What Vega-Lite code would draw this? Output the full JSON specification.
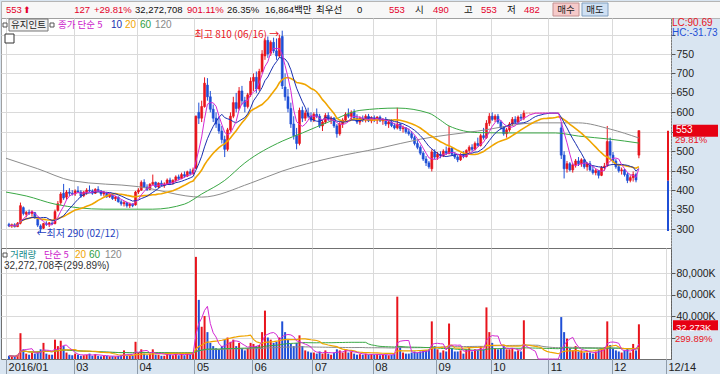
{
"$schema":"https://vega.github.io/schema/vega-lite/v6.json",
"padding":0,
"background":"#d9e5f1",
"spacing":0,
"bounds":"flush",
"config":{
 "view":{"stroke":"#a8a8a8"},
 "font":"Liberation Sans, Noto Sans CJK KR",
 "axis":{"labelFont":"Liberation Sans","labelFontSize":10.5,"labelColor":"#222","gridColor":"#dcdcdc","tickColor":"#555","domainColor":"#777","labelOverlap":false},
 "text":{"font":"Liberation Sans, Noto Sans CJK KR","fontSize":10,"baseline":"middle","align":"left"}
},
"datasets":{
 "k":[
{"i":0,"o":312,"h":316,"l":305,"c":308,"v":3000},
{"i":1,"o":308,"h":314,"l":303,"c":311,"v":2500},
{"i":2,"o":311,"h":315,"l":304,"c":306,"v":2200},
{"i":3,"o":306,"h":318,"l":305,"c":315,"v":4000},
{"i":4,"o":315,"h":368,"l":312,"c":360,"v":24000},
{"i":5,"o":355,"h":358,"l":335,"c":340,"v":9000},
{"i":6,"o":338,"h":346,"l":330,"c":343,"v":5000},
{"i":7,"o":343,"h":350,"l":336,"c":340,"v":4000},
{"i":8,"o":340,"h":348,"l":332,"c":345,"v":6000},
{"i":9,"o":342,"h":344,"l":326,"c":330,"v":5000},
{"i":10,"o":325,"h":328,"l":305,"c":310,"v":7000},
{"i":11,"o":308,"h":312,"l":290,"c":300,"v":9000},
{"i":12,"o":302,"h":316,"l":300,"c":314,"v":15000},
{"i":13,"o":314,"h":320,"l":308,"c":312,"v":5000},
{"i":14,"o":312,"h":318,"l":305,"c":316,"v":4000},
{"i":15,"o":315,"h":320,"l":310,"c":313,"v":4000},
{"i":16,"o":314,"h":350,"l":312,"c":345,"v":18000},
{"i":17,"o":348,"h":372,"l":345,"c":365,"v":12000},
{"i":18,"o":368,"h":395,"l":362,"c":390,"v":17000},
{"i":19,"o":392,"h":416,"l":375,"c":380,"v":12000},
{"i":20,"o":382,"h":400,"l":375,"c":395,"v":6000},
{"i":21,"o":395,"h":405,"l":385,"c":392,"v":4000},
{"i":22,"o":392,"h":400,"l":386,"c":390,"v":3500},
{"i":23,"o":390,"h":402,"l":385,"c":398,"v":5000},
{"i":24,"o":398,"h":410,"l":392,"c":395,"v":4000},
{"i":25,"o":395,"h":400,"l":380,"c":385,"v":3000},
{"i":26,"o":386,"h":398,"l":382,"c":395,"v":3500},
{"i":27,"o":395,"h":405,"l":388,"c":400,"v":4000},
{"i":28,"o":400,"h":412,"l":395,"c":398,"v":5000},
{"i":29,"o":398,"h":402,"l":388,"c":392,"v":3000},
{"i":30,"o":392,"h":405,"l":390,"c":402,"v":4500},
{"i":31,"o":402,"h":410,"l":395,"c":398,"v":3000},
{"i":32,"o":398,"h":400,"l":385,"c":390,"v":2500},
{"i":33,"o":390,"h":398,"l":384,"c":394,"v":3000},
{"i":34,"o":394,"h":396,"l":380,"c":383,"v":2800},
{"i":35,"o":383,"h":392,"l":380,"c":388,"v":2500},
{"i":36,"o":388,"h":390,"l":375,"c":378,"v":2600},
{"i":37,"o":378,"h":385,"l":372,"c":382,"v":2400},
{"i":38,"o":382,"h":384,"l":368,"c":370,"v":2800},
{"i":39,"o":370,"h":375,"l":360,"c":365,"v":3500},
{"i":40,"o":365,"h":372,"l":358,"c":368,"v":8000},
{"i":41,"o":368,"h":370,"l":355,"c":360,"v":3000},
{"i":42,"o":360,"h":368,"l":354,"c":364,"v":3200},
{"i":43,"o":364,"h":366,"l":356,"c":360,"v":2800},
{"i":44,"o":362,"h":398,"l":360,"c":395,"v":16000},
{"i":45,"o":395,"h":405,"l":390,"c":400,"v":6000},
{"i":46,"o":400,"h":425,"l":398,"c":420,"v":9000},
{"i":47,"o":420,"h":428,"l":405,"c":408,"v":5000},
{"i":48,"o":408,"h":415,"l":398,"c":402,"v":3500},
{"i":49,"o":402,"h":418,"l":400,"c":415,"v":5000},
{"i":50,"o":415,"h":440,"l":412,"c":420,"v":9000},
{"i":51,"o":420,"h":422,"l":405,"c":408,"v":4000},
{"i":52,"o":408,"h":420,"l":405,"c":418,"v":4000},
{"i":53,"o":418,"h":425,"l":410,"c":412,"v":3000},
{"i":54,"o":412,"h":420,"l":406,"c":416,"v":3000},
{"i":55,"o":416,"h":430,"l":414,"c":426,"v":6000},
{"i":56,"o":426,"h":432,"l":415,"c":418,"v":4000},
{"i":57,"o":418,"h":428,"l":414,"c":425,"v":3500},
{"i":58,"o":425,"h":438,"l":420,"c":434,"v":5000},
{"i":59,"o":434,"h":440,"l":425,"c":430,"v":3500},
{"i":60,"o":430,"h":445,"l":428,"c":440,"v":5000},
{"i":61,"o":440,"h":448,"l":432,"c":436,"v":3500},
{"i":62,"o":436,"h":450,"l":434,"c":447,"v":5000},
{"i":63,"o":447,"h":455,"l":438,"c":442,"v":4000},
{"i":64,"o":442,"h":458,"l":440,"c":452,"v":6000},
{"i":65,"o":456,"h":592,"l":455,"c":590,"v":95000},
{"i":66,"o":600,"h":625,"l":570,"c":585,"v":55000},
{"i":67,"o":585,"h":630,"l":575,"c":615,"v":30000},
{"i":68,"o":615,"h":690,"l":612,"c":675,"v":40000},
{"i":69,"o":670,"h":688,"l":630,"c":640,"v":25000},
{"i":70,"o":640,"h":655,"l":600,"c":608,"v":15000},
{"i":71,"o":608,"h":620,"l":575,"c":585,"v":12000},
{"i":72,"o":585,"h":600,"l":560,"c":570,"v":10000},
{"i":73,"o":570,"h":590,"l":545,"c":552,"v":9000},
{"i":74,"o":552,"h":565,"l":520,"c":530,"v":12000},
{"i":75,"o":530,"h":540,"l":485,"c":505,"v":18000},
{"i":76,"o":505,"h":560,"l":500,"c":555,"v":20000},
{"i":77,"o":555,"h":600,"l":550,"c":590,"v":16000},
{"i":78,"o":590,"h":640,"l":585,"c":625,"v":18000},
{"i":79,"o":625,"h":650,"l":600,"c":610,"v":12000},
{"i":80,"o":610,"h":665,"l":605,"c":655,"v":15000},
{"i":81,"o":655,"h":668,"l":620,"c":630,"v":10000},
{"i":82,"o":630,"h":640,"l":600,"c":615,"v":8000},
{"i":83,"o":615,"h":650,"l":610,"c":645,"v":10000},
{"i":84,"o":645,"h":690,"l":640,"c":680,"v":15000},
{"i":85,"o":680,"h":700,"l":655,"c":690,"v":14000},
{"i":86,"o":690,"h":705,"l":650,"c":660,"v":12000},
{"i":87,"o":660,"h":712,"l":655,"c":705,"v":13000},
{"i":88,"o":705,"h":760,"l":700,"c":750,"v":25000},
{"i":89,"o":745,"h":790,"l":735,"c":785,"v":45000},
{"i":90,"o":785,"h":795,"l":740,"c":750,"v":20000},
{"i":91,"o":752,"h":785,"l":745,"c":780,"v":18000},
{"i":92,"o":780,"h":792,"l":752,"c":758,"v":15000},
{"i":93,"o":758,"h":790,"l":735,"c":745,"v":16000},
{"i":94,"o":745,"h":800,"l":740,"c":790,"v":20000},
{"i":95,"o":795,"h":810,"l":660,"c":668,"v":35000},
{"i":96,"o":665,"h":700,"l":630,"c":640,"v":25000},
{"i":97,"o":640,"h":660,"l":600,"c":610,"v":18000},
{"i":98,"o":610,"h":625,"l":560,"c":570,"v":14000},
{"i":99,"o":570,"h":590,"l":530,"c":540,"v":12000},
{"i":100,"o":540,"h":560,"l":505,"c":520,"v":15000},
{"i":101,"o":520,"h":612,"l":515,"c":605,"v":22000},
{"i":102,"o":605,"h":615,"l":575,"c":585,"v":12000},
{"i":103,"o":585,"h":605,"l":578,"c":598,"v":8000},
{"i":104,"o":598,"h":612,"l":585,"c":590,"v":7000},
{"i":105,"o":590,"h":600,"l":575,"c":580,"v":6000},
{"i":106,"o":580,"h":600,"l":575,"c":595,"v":6000},
{"i":107,"o":595,"h":610,"l":585,"c":590,"v":5000},
{"i":108,"o":590,"h":596,"l":560,"c":565,"v":7000},
{"i":109,"o":565,"h":580,"l":552,"c":575,"v":5000},
{"i":110,"o":575,"h":598,"l":570,"c":592,"v":8000},
{"i":111,"o":592,"h":600,"l":578,"c":582,"v":5000},
{"i":112,"o":582,"h":590,"l":570,"c":585,"v":4000},
{"i":113,"o":585,"h":588,"l":560,"c":565,"v":6000},
{"i":114,"o":565,"h":570,"l":535,"c":545,"v":9000},
{"i":115,"o":545,"h":575,"l":540,"c":570,"v":8000},
{"i":116,"o":570,"h":585,"l":560,"c":580,"v":6000},
{"i":117,"o":580,"h":600,"l":575,"c":595,"v":9000},
{"i":118,"o":595,"h":610,"l":585,"c":590,"v":6000},
{"i":119,"o":590,"h":605,"l":580,"c":600,"v":7000},
{"i":120,"o":600,"h":608,"l":580,"c":585,"v":5000},
{"i":121,"o":585,"h":595,"l":570,"c":575,"v":4000},
{"i":122,"o":575,"h":590,"l":568,"c":585,"v":4500},
{"i":123,"o":585,"h":592,"l":575,"c":580,"v":4000},
{"i":124,"o":580,"h":595,"l":574,"c":590,"v":5000},
{"i":125,"o":590,"h":596,"l":575,"c":578,"v":4000},
{"i":126,"o":578,"h":590,"l":572,"c":585,"v":4500},
{"i":127,"o":585,"h":592,"l":575,"c":580,"v":4000},
{"i":128,"o":580,"h":590,"l":570,"c":588,"v":4500},
{"i":129,"o":588,"h":592,"l":575,"c":578,"v":3500},
{"i":130,"o":578,"h":585,"l":568,"c":582,"v":4000},
{"i":131,"o":582,"h":588,"l":565,"c":570,"v":4000},
{"i":132,"o":570,"h":580,"l":560,"c":575,"v":3500},
{"i":133,"o":575,"h":582,"l":562,"c":566,"v":4000},
{"i":134,"o":566,"h":572,"l":556,"c":560,"v":5000},
{"i":135,"o":560,"h":612,"l":556,"c":570,"v":58000},
{"i":136,"o":570,"h":572,"l":552,"c":558,"v":12000},
{"i":137,"o":558,"h":566,"l":548,"c":560,"v":6000},
{"i":138,"o":560,"h":562,"l":545,"c":550,"v":5000},
{"i":139,"o":550,"h":558,"l":540,"c":545,"v":5000},
{"i":140,"o":545,"h":552,"l":530,"c":535,"v":6000},
{"i":141,"o":535,"h":540,"l":515,"c":520,"v":7000},
{"i":142,"o":520,"h":528,"l":505,"c":510,"v":6000},
{"i":143,"o":510,"h":515,"l":490,"c":495,"v":7000},
{"i":144,"o":495,"h":500,"l":475,"c":480,"v":8000},
{"i":145,"o":480,"h":488,"l":462,"c":470,"v":8000},
{"i":146,"o":470,"h":475,"l":455,"c":460,"v":9000},
{"i":147,"o":455,"h":505,"l":448,"c":498,"v":35000},
{"i":148,"o":498,"h":505,"l":480,"c":485,"v":12000},
{"i":149,"o":485,"h":498,"l":478,"c":492,"v":9000},
{"i":150,"o":492,"h":500,"l":482,"c":488,"v":6000},
{"i":151,"o":488,"h":505,"l":485,"c":500,"v":8000},
{"i":152,"o":500,"h":512,"l":490,"c":495,"v":7000},
{"i":153,"o":495,"h":565,"l":492,"c":508,"v":33000},
{"i":154,"o":508,"h":510,"l":488,"c":492,"v":10000},
{"i":155,"o":492,"h":498,"l":480,"c":485,"v":7000},
{"i":156,"o":485,"h":490,"l":472,"c":478,"v":7000},
{"i":157,"o":478,"h":495,"l":475,"c":490,"v":8000},
{"i":158,"o":490,"h":500,"l":482,"c":486,"v":5000},
{"i":159,"o":486,"h":505,"l":484,"c":502,"v":9000},
{"i":160,"o":502,"h":515,"l":495,"c":510,"v":10000},
{"i":161,"o":510,"h":518,"l":500,"c":505,"v":7000},
{"i":162,"o":505,"h":525,"l":502,"c":520,"v":9000},
{"i":163,"o":520,"h":535,"l":512,"c":515,"v":8000},
{"i":164,"o":515,"h":545,"l":512,"c":540,"v":12000},
{"i":165,"o":540,"h":560,"l":530,"c":535,"v":9000},
{"i":166,"o":535,"h":580,"l":532,"c":572,"v":48000},
{"i":167,"o":572,"h":598,"l":565,"c":590,"v":25000},
{"i":168,"o":590,"h":600,"l":578,"c":582,"v":15000},
{"i":169,"o":582,"h":595,"l":575,"c":590,"v":10000},
{"i":170,"o":590,"h":596,"l":570,"c":575,"v":9000},
{"i":171,"o":575,"h":580,"l":555,"c":560,"v":10000},
{"i":172,"o":560,"h":565,"l":540,"c":545,"v":12000},
{"i":173,"o":545,"h":560,"l":535,"c":555,"v":9000},
{"i":174,"o":555,"h":575,"l":550,"c":570,"v":9000},
{"i":175,"o":570,"h":588,"l":565,"c":582,"v":10000},
{"i":176,"o":582,"h":590,"l":570,"c":575,"v":7000},
{"i":177,"o":575,"h":592,"l":572,"c":588,"v":8000},
{"i":178,"o":588,"h":596,"l":578,"c":585,"v":7000},
{"i":179,"o":585,"h":605,"l":580,"c":598,"v":36000},
{"i":180,"o":598,"h":598,"l":598,"c":598,"v":0},
{"i":181,"o":598,"h":598,"l":598,"c":598,"v":0},
{"i":182,"o":598,"h":598,"l":598,"c":598,"v":0},
{"i":183,"o":598,"h":598,"l":598,"c":598,"v":0},
{"i":184,"o":598,"h":598,"l":598,"c":598,"v":0},
{"i":185,"o":598,"h":598,"l":598,"c":598,"v":0},
{"i":186,"o":598,"h":598,"l":598,"c":598,"v":0},
{"i":187,"o":598,"h":598,"l":598,"c":598,"v":0},
{"i":188,"o":598,"h":598,"l":598,"c":598,"v":0},
{"i":189,"o":598,"h":598,"l":598,"c":598,"v":0},
{"i":190,"o":598,"h":598,"l":598,"c":598,"v":0},
{"i":191,"o":598,"h":598,"l":598,"c":598,"v":0},
{"i":192,"o":560,"h":575,"l":480,"c":490,"v":39000},
{"i":193,"o":490,"h":500,"l":430,"c":455,"v":25000},
{"i":194,"o":455,"h":475,"l":445,"c":468,"v":19000},
{"i":195,"o":468,"h":472,"l":448,"c":452,"v":10000},
{"i":196,"o":452,"h":470,"l":445,"c":465,"v":8000},
{"i":197,"o":465,"h":480,"l":458,"c":475,"v":12000},
{"i":198,"o":475,"h":485,"l":462,"c":468,"v":7000},
{"i":199,"o":468,"h":482,"l":460,"c":478,"v":8000},
{"i":200,"o":478,"h":480,"l":455,"c":460,"v":6000},
{"i":201,"o":460,"h":472,"l":450,"c":468,"v":6000},
{"i":202,"o":468,"h":475,"l":448,"c":452,"v":6000},
{"i":203,"o":452,"h":462,"l":440,"c":445,"v":5000},
{"i":204,"o":445,"h":455,"l":438,"c":450,"v":7000},
{"i":205,"o":450,"h":452,"l":430,"c":438,"v":9000},
{"i":206,"o":438,"h":462,"l":436,"c":458,"v":10000},
{"i":207,"o":458,"h":470,"l":450,"c":462,"v":11000},
{"i":208,"o":462,"h":565,"l":460,"c":525,"v":35000},
{"i":209,"o":525,"h":535,"l":480,"c":490,"v":13000},
{"i":210,"o":490,"h":498,"l":470,"c":475,"v":10000},
{"i":211,"o":475,"h":480,"l":455,"c":460,"v":8000},
{"i":212,"o":460,"h":468,"l":445,"c":450,"v":7000},
{"i":213,"o":450,"h":458,"l":440,"c":452,"v":6000},
{"i":214,"o":452,"h":455,"l":435,"c":440,"v":8000},
{"i":215,"o":440,"h":445,"l":418,"c":425,"v":10000},
{"i":216,"o":425,"h":438,"l":420,"c":432,"v":6000},
{"i":217,"o":432,"h":448,"l":422,"c":440,"v":14000},
{"i":218,"o":440,"h":445,"l":420,"c":426,"v":8000},
{"i":219,"o":490,"h":553,"l":482,"c":553,"v":32273}
 ],
 "p60":[
{"i":-1.03,"v":395},{"i":6,"v":385},{"i":16,"v":364},{"i":33,"v":351},{"i":50,"v":351},{"i":61,"v":364},{"i":67,"v":390},{"i":75,"v":425},{"i":82,"v":470},{"i":95,"v":526},{"i":102,"v":547},{"i":112,"v":578},{"i":122,"v":605},{"i":135,"v":611},{"i":146,"v":598},{"i":150,"v":580},{"i":153,"v":565},{"i":163,"v":548},{"i":175,"v":547},{"i":190,"v":547},{"i":198,"v":539},{"i":209,"v":531},{"i":219,"v":521}
 ],
 "p120":[
{"i":-1.03,"v":482},{"i":10,"v":455},{"i":22,"v":424},{"i":45,"v":409},{"i":67,"v":382},{"i":84,"v":418},{"i":95,"v":449},{"i":112,"v":483},{"i":129,"v":508},{"i":143,"v":531},{"i":163,"v":552},{"i":184,"v":573},{"i":198,"v":573},{"i":209,"v":557},{"i":219,"v":534}
 ],
 "rg":[{"a":553,"b":424},{"a":424,"b":295}]
},
"vconcat":[
 {
  "width":720,"height":17,
  "view":{"fill":"#f7f7f7","stroke":"#b5b5b5"},
  "data":{"values":[{"h":1}]},
  "layer":[
   {"mark":{"type":"rect","x":552,"x2":578,"y":2,"y2":15,"fill":"#f6caca","stroke":"#c49090"}},
   {"mark":{"type":"rect","x":581,"x2":607,"y":2,"y2":15,"fill":"#cfe0f3","stroke":"#809fc0"}},
   {"mark":{"type":"text","text":"553","x":5,"y":9,"fill":"#e4002b","fontSize":9.5}},
   {"mark":{"type":"text","text":"⬆","x":22,"y":9,"fill":"#e4002b","fontSize":9,"font":"DejaVu Sans"}},
   {"mark":{"type":"text","text":"127","x":89,"y":9,"fill":"#e4002b","fontSize":9.5,"align":"right"}},
   {"mark":{"type":"text","text":"+29.81%","x":93,"y":9,"fill":"#e4002b","fontSize":9.5}},
   {"mark":{"type":"text","text":"32,272,708","x":134,"y":9,"fill":"#111","fontSize":9.5}},
   {"mark":{"type":"text","text":"901.11%","x":186,"y":9,"fill":"#e4002b","fontSize":9.5}},
   {"mark":{"type":"text","text":"26.35%","x":226,"y":9,"fill":"#111","fontSize":9.5}},
   {"mark":{"type":"text","text":"16,864백만","x":264,"y":9,"fill":"#111","fontSize":9.5}},
   {"mark":{"type":"text","text":"최우선","x":315,"y":9,"fill":"#111","fontSize":9.5,"font":"Noto Sans CJK KR"}},
   {"mark":{"type":"text","text":"0","x":356,"y":9,"fill":"#111","fontSize":9.5}},
   {"mark":{"type":"text","text":"553","x":388,"y":9,"fill":"#e4002b","fontSize":9.5}},
   {"mark":{"type":"text","text":"시","x":414,"y":9,"fill":"#111","fontSize":9.5,"font":"Noto Sans CJK KR"}},
   {"mark":{"type":"text","text":"490","x":432,"y":9,"fill":"#e4002b","fontSize":9.5}},
   {"mark":{"type":"text","text":"고","x":463,"y":9,"fill":"#111","fontSize":9.5,"font":"Noto Sans CJK KR"}},
   {"mark":{"type":"text","text":"553","x":480,"y":9,"fill":"#e4002b","fontSize":9.5}},
   {"mark":{"type":"text","text":"저","x":506,"y":9,"fill":"#111","fontSize":9.5,"font":"Noto Sans CJK KR"}},
   {"mark":{"type":"text","text":"482","x":523,"y":9,"fill":"#e4002b","fontSize":9.5}},
   {"mark":{"type":"text","text":"매수","x":565,"y":9,"fill":"#222","fontSize":9.5,"align":"center","font":"Noto Sans CJK KR"}},
   {"mark":{"type":"text","text":"매도","x":594,"y":9,"fill":"#222","fontSize":9.5,"align":"center","font":"Noto Sans CJK KR"}}
  ]
 },
 {
  "width":670,"height":230,
  "view":{"fill":"white","stroke":"#a0a0a0"},
  "layer":[
   {"data":{"name":"k"},
    "mark":{"type":"rule","strokeWidth":1},
    "encoding":{
     "x":{"field":"i","type":"quantitative","scale":{"domain":[-1.03,228.42],"nice":false,"zero":false},
          "axis":{"values":[-1,22.5,44.5,64.5,84.5,105.5,126.5,148.5,167.5,187.5,209.5],"labels":false,"ticks":false,"domain":false,"grid":true,"gridColor":"#dadada","title":null}},
     "y":{"field":"l","type":"quantitative","scale":{"domain":[251.2,842.6],"nice":false,"zero":false},
          "axis":{"orient":"right","values":[300,350,400,450,500,550,600,650,700,750,800],"labelExpr":"(datum.value >= 800 || datum.value == 550) ? '' : datum.label","labelOverlap":false,"grid":true,"gridColor":"#dadada","tickSize":4,"labelPadding":1,"domainDash":[1,2],"domainColor":"#555","title":null}},
     "y2":{"field":"h"},
     "color":{"condition":[{"test":"datum.c == datum.o","value":"#f08a8a"},{"test":"datum.c > datum.o","value":"#e8141c"}],"value":"#1f4fd6"}
    }},
   {"data":{"name":"k"},
    "mark":{"type":"bar","width":2,"strokeWidth":0.6,"orient":"vertical"},
    "encoding":{
     "x":{"field":"i","type":"quantitative","title":null},
     "y":{"field":"o","type":"quantitative","axis":{"orient":"right","values":[300,350,400,450,500,550,600,650,700,750,800],"labelExpr":"(datum.value >= 800 || datum.value == 550) ? '' : datum.label","labelOverlap":false,"grid":true,"gridColor":"#dadada","tickSize":4,"labelPadding":1,"domainDash":[1,2],"domainColor":"#555","title":null}},
     "y2":{"field":"c"},
     "fill":{"condition":[{"test":"datum.c == datum.o","value":"#f08a8a"},{"test":"datum.c > datum.o","value":"#e8141c"}],"value":"#1f4fd6"},
     "stroke":{"condition":[{"test":"datum.c == datum.o","value":"#f08a8a"},{"test":"datum.c > datum.o","value":"#e8141c"}],"value":"#1f4fd6"}
    }},
   {"data":{"name":"p120"},"mark":{"type":"line","color":"#8c8c8c","strokeWidth":1,"interpolate":"monotone"},
    "encoding":{"x":{"field":"i","type":"quantitative","title":null},"y":{"field":"v","type":"quantitative","axis":{"orient":"right","values":[300,350,400,450,500,550,600,650,700,750,800],"labelExpr":"(datum.value >= 800 || datum.value == 550) ? '' : datum.label","labelOverlap":false,"grid":true,"gridColor":"#dadada","tickSize":4,"labelPadding":1,"domainDash":[1,2],"domainColor":"#555","title":null}}}},
   {"data":{"name":"p60"},"mark":{"type":"line","color":"#3aa845","strokeWidth":1,"interpolate":"monotone"},
    "encoding":{"x":{"field":"i","type":"quantitative","title":null},"y":{"field":"v","type":"quantitative","axis":{"orient":"right","values":[300,350,400,450,500,550,600,650,700,750,800],"labelExpr":"(datum.value >= 800 || datum.value == 550) ? '' : datum.label","labelOverlap":false,"grid":true,"gridColor":"#dadada","tickSize":4,"labelPadding":1,"domainDash":[1,2],"domainColor":"#555","title":null}}}},
   {"data":{"name":"k"},"transform":[{"window":[{"op":"mean","field":"c","as":"m20"}],"frame":[-19,0],"sort":[{"field":"i"}]}],
    "mark":{"type":"line","color":"#f0a500","strokeWidth":1.6},
    "encoding":{"x":{"field":"i","type":"quantitative","title":null},"y":{"field":"m20","type":"quantitative","axis":{"orient":"right","values":[300,350,400,450,500,550,600,650,700,750,800],"labelExpr":"(datum.value >= 800 || datum.value == 550) ? '' : datum.label","labelOverlap":false,"grid":true,"gridColor":"#dadada","tickSize":4,"labelPadding":1,"domainDash":[1,2],"domainColor":"#555","title":null}}}},
   {"data":{"name":"k"},"transform":[{"window":[{"op":"mean","field":"c","as":"m10"}],"frame":[-9,0],"sort":[{"field":"i"}]}],
    "mark":{"type":"line","color":"#1a2fb0","strokeWidth":1},
    "encoding":{"x":{"field":"i","type":"quantitative","title":null},"y":{"field":"m10","type":"quantitative","axis":{"orient":"right","values":[300,350,400,450,500,550,600,650,700,750,800],"labelExpr":"(datum.value >= 800 || datum.value == 550) ? '' : datum.label","labelOverlap":false,"grid":true,"gridColor":"#dadada","tickSize":4,"labelPadding":1,"domainDash":[1,2],"domainColor":"#555","title":null}}}},
   {"data":{"name":"k"},"transform":[{"window":[{"op":"mean","field":"c","as":"m5"}],"frame":[-4,0],"sort":[{"field":"i"}]}],
    "mark":{"type":"line","color":"#d42ad4","strokeWidth":1},
    "encoding":{"x":{"field":"i","type":"quantitative","title":null},"y":{"field":"m5","type":"quantitative","axis":{"orient":"right","values":[300,350,400,450,500,550,600,650,700,750,800],"labelExpr":"(datum.value >= 800 || datum.value == 550) ? '' : datum.label","labelOverlap":false,"grid":true,"gridColor":"#dadada","tickSize":4,"labelPadding":1,"domainDash":[1,2],"domainColor":"#555","title":null}}}},
   {"data":{"name":"rg"},"mark":{"type":"rule","strokeWidth":2},
    "encoding":{"x":{"value":667},"y":{"field":"a","type":"quantitative","axis":{"orient":"right","values":[300,350,400,450,500,550,600,650,700,750,800],"labelExpr":"(datum.value >= 800 || datum.value == 550) ? '' : datum.label","labelOverlap":false,"grid":true,"gridColor":"#dadada","tickSize":4,"labelPadding":1,"domainDash":[1,2],"domainColor":"#555","title":null}},"y2":{"field":"b"},
     "color":{"condition":{"test":"datum.a > 500","value":"#e8141c"},"value":"#1f4fd6"}}},
   {"data":{"values":[{"i":95,"v":810,"t":"최고 810 (06/16) →"}]},
    "mark":{"type":"text","align":"right","dx":-3,"dy":4,"fill":"#e8141c","font":"Noto Sans CJK KR","fontSize":10},
    "encoding":{"x":{"field":"i","type":"quantitative","title":null},"y":{"field":"v","type":"quantitative","axis":{"orient":"right","values":[300,350,400,450,500,550,600,650,700,750,800],"labelExpr":"(datum.value >= 800 || datum.value == 550) ? '' : datum.label","labelOverlap":false,"grid":true,"gridColor":"#dadada","tickSize":4,"labelPadding":1,"domainDash":[1,2],"domainColor":"#555","title":null}},"text":{"field":"t"}}},
   {"data":{"values":[{"i":11,"v":290,"t":"←최저 290 (02/12)"}]},
    "mark":{"type":"text","align":"left","dx":-4,"dy":1,"fill":"#1f3fbf","font":"Noto Sans CJK KR","fontSize":10},
    "encoding":{"x":{"field":"i","type":"quantitative","title":null},"y":{"field":"v","type":"quantitative","axis":{"orient":"right","values":[300,350,400,450,500,550,600,650,700,750,800],"labelExpr":"(datum.value >= 800 || datum.value == 550) ? '' : datum.label","labelOverlap":false,"grid":true,"gridColor":"#dadada","tickSize":4,"labelPadding":1,"domainDash":[1,2],"domainColor":"#555","title":null}},"text":{"field":"t"}}},
   {"data":{"name":"k"},"transform":[{"filter":"datum.i == 219"}],
    "mark":{"type":"rect","fill":"#e60012","yOffset":-6,"y2Offset":6},
    "encoding":{"x":{"value":672},"x2":{"value":717},"y":{"field":"c","type":"quantitative","axis":{"orient":"right","values":[300,350,400,450,500,550,600,650,700,750,800],"labelExpr":"(datum.value >= 800 || datum.value == 550) ? '' : datum.label","labelOverlap":false,"grid":true,"gridColor":"#dadada","tickSize":4,"labelPadding":1,"domainDash":[1,2],"domainColor":"#555","title":null}},"y2":{"field":"c"}}},
   {"data":{"name":"k"},"transform":[{"filter":"datum.i == 219"}],
    "mark":{"type":"text","fill":"white","fontSize":10,"dy":-0.5},
    "encoding":{"x":{"value":675},"y":{"field":"c","type":"quantitative","axis":{"orient":"right","values":[300,350,400,450,500,550,600,650,700,750,800],"labelExpr":"(datum.value >= 800 || datum.value == 550) ? '' : datum.label","labelOverlap":false,"grid":true,"gridColor":"#dadada","tickSize":4,"labelPadding":1,"domainDash":[1,2],"domainColor":"#555","title":null}},"text":{"field":"c"}}},
   {"data":{"values":[{"h":1}]},"mark":{"type":"text","text":"29.81%","x":674,"y":122,"fill":"#e8141c","fontSize":9.5}},
   {"data":{"values":[{"h":1}]},"mark":{"type":"text","text":"LC:90.69","x":671,"y":5,"fill":"#e8141c","fontSize":10}},
   {"data":{"values":[{"h":1}]},"mark":{"type":"text","text":"HC:-31.73","x":671,"y":15,"fill":"#1f4fd6","fontSize":10}},
   {"data":{"values":[{"h":1}]},"mark":{"type":"rect","x":2,"x2":6,"y":5,"y2":9,"fill":"white","stroke":"#555"}},
   {"data":{"values":[{"h":1}]},"mark":{"type":"rect","x":8,"x2":47,"y":1,"y2":13,"fill":"#efefef","stroke":"#777"}},
   {"data":{"values":[{"h":1}]},"mark":{"type":"text","text":"유지인트","x":10,"y":7,"fill":"#222","fontSize":9.5,"font":"Noto Sans CJK KR"}},
   {"data":{"values":[{"h":1}]},"mark":{"type":"rect","x":49,"x2":53,"y":5,"y2":9,"fill":"white","stroke":"#555"}},
   {"data":{"values":[{"h":1}]},"mark":{"type":"text","text":"종가 단순 5","x":57,"y":7,"fill":"#cc22cc","fontSize":9.5,"font":"Noto Sans CJK KR"}},
   {"data":{"values":[{"h":1}]},"mark":{"type":"text","text":"10","x":110,"y":7,"fill":"#1a2fb0","fontSize":10}},
   {"data":{"values":[{"h":1}]},"mark":{"type":"text","text":"20","x":124,"y":7,"fill":"#f0a500","fontSize":10}},
   {"data":{"values":[{"h":1}]},"mark":{"type":"text","text":"60","x":139,"y":7,"fill":"#2e9e3e","fontSize":10}},
   {"data":{"values":[{"h":1}]},"mark":{"type":"text","text":"120","x":154,"y":7,"fill":"#888","fontSize":10}},
   {"data":{"values":[{"h":1}]},"mark":{"type":"rect","x":4,"x2":13,"y":16,"y2":25,"fill":"white","stroke":"#333"}}
  ]
 },
 {
  "width":670,"height":111,
  "view":{"fill":"white","stroke":"#707070"},
  "layer":[
   {"data":{"name":"k"},
    "mark":{"type":"bar","width":2,"orient":"vertical"},
    "encoding":{
     "x":{"field":"i","type":"quantitative","scale":{"domain":[-1.03,228.42],"nice":false,"zero":false},
          "axis":{"values":[-1,22.5,44.5,64.5,84.5,105.5,126.5,148.5,167.5,187.5,209.5,228.42],
                  "labelExpr":"datum.value < 0 ? '2016/01' : datum.value > 220 ? '12/14' : ['03','04','05','06','07','08','09','10','11','12'][indexof([22.5,44.5,64.5,84.5,105.5,126.5,148.5,167.5,187.5,209.5], datum.value)]",
                  "grid":true,"gridColor":"#dadada","tickSize":16,"tickColor":"#8e9cab","labelPadding":-14,"labelAlign":"left","labelBaseline":"top","labelOffset":2,"labelFlush":false,"labelOverlap":false,"domain":false,"title":null,"labelFontSize":11}},
     "y":{"field":"v","type":"quantitative","scale":{"domain":[0,103256],"nice":false},
          "axis":{"orient":"right","values":[20000,40000,60000,80000],"labelExpr":"datum.value == 20000 ? '' : format(datum.value, ',') + 'K'","labelOverlap":false,"grid":true,"gridColor":"#dadada","tickSize":4,"labelPadding":1,"domainDash":[1,2],"domainColor":"#555","title":null}},
     "color":{"condition":{"test":"datum.c > datum.o","value":"#e8141c"},"value":"#1f4fd6"}
    }},
   {"data":{"name":"k"},"transform":[{"window":[{"op":"mean","field":"v","as":"w"}],"frame":[-119,0],"sort":[{"field":"i"}]}],
    "mark":{"type":"line","color":"#8c8c8c","strokeWidth":1},
    "encoding":{"x":{"field":"i","type":"quantitative","title":null},"y":{"field":"w","type":"quantitative","axis":{"orient":"right","values":[20000,40000,60000,80000],"labelExpr":"datum.value == 20000 ? '' : format(datum.value, ',') + 'K'","labelOverlap":false,"grid":true,"gridColor":"#dadada","tickSize":4,"labelPadding":1,"domainDash":[1,2],"domainColor":"#555","title":null}}}},
   {"data":{"name":"k"},"transform":[{"window":[{"op":"mean","field":"v","as":"w"}],"frame":[-59,0],"sort":[{"field":"i"}]}],
    "mark":{"type":"line","color":"#3aa845","strokeWidth":1},
    "encoding":{"x":{"field":"i","type":"quantitative","title":null},"y":{"field":"w","type":"quantitative","axis":{"orient":"right","values":[20000,40000,60000,80000],"labelExpr":"datum.value == 20000 ? '' : format(datum.value, ',') + 'K'","labelOverlap":false,"grid":true,"gridColor":"#dadada","tickSize":4,"labelPadding":1,"domainDash":[1,2],"domainColor":"#555","title":null}}}},
   {"data":{"name":"k"},"transform":[{"window":[{"op":"mean","field":"v","as":"w"}],"frame":[-19,0],"sort":[{"field":"i"}]}],
    "mark":{"type":"line","color":"#f0a500","strokeWidth":1.2},
    "encoding":{"x":{"field":"i","type":"quantitative","title":null},"y":{"field":"w","type":"quantitative","axis":{"orient":"right","values":[20000,40000,60000,80000],"labelExpr":"datum.value == 20000 ? '' : format(datum.value, ',') + 'K'","labelOverlap":false,"grid":true,"gridColor":"#dadada","tickSize":4,"labelPadding":1,"domainDash":[1,2],"domainColor":"#555","title":null}}}},
   {"data":{"name":"k"},"transform":[{"window":[{"op":"mean","field":"v","as":"w"}],"frame":[-4,0],"sort":[{"field":"i"}]}],
    "mark":{"type":"line","color":"#d42ad4","strokeWidth":1},
    "encoding":{"x":{"field":"i","type":"quantitative","title":null},"y":{"field":"w","type":"quantitative","axis":{"orient":"right","values":[20000,40000,60000,80000],"labelExpr":"datum.value == 20000 ? '' : format(datum.value, ',') + 'K'","labelOverlap":false,"grid":true,"gridColor":"#dadada","tickSize":4,"labelPadding":1,"domainDash":[1,2],"domainColor":"#555","title":null}}}},
   {"data":{"name":"k"},"transform":[{"filter":"datum.i == 219"}],
    "mark":{"type":"rect","fill":"#e60012","yOffset":-4,"y2Offset":6},
    "encoding":{"x":{"value":672},"x2":{"value":717},"y":{"field":"v","type":"quantitative","axis":{"orient":"right","values":[20000,40000,60000,80000],"labelExpr":"datum.value == 20000 ? '' : format(datum.value, ',') + 'K'","labelOverlap":false,"grid":true,"gridColor":"#dadada","tickSize":4,"labelPadding":1,"domainDash":[1,2],"domainColor":"#555","title":null}},"y2":{"field":"v"}}},
   {"data":{"values":[{"h":1}]},"mark":{"type":"text","text":"32,273K","x":675,"y":79.5,"fill":"white","fontSize":9.5}},
   {"data":{"values":[{"h":1}]},"mark":{"type":"text","text":"299.89%","x":674,"y":90.5,"fill":"#e8141c","fontSize":9.5}},
   {"data":{"values":[{"h":1}]},"mark":{"type":"rect","x":2,"x2":6,"y":5,"y2":9,"fill":"white","stroke":"#555"}},
   {"data":{"values":[{"h":1}]},"mark":{"type":"text","text":"거래량","x":9,"y":7,"fill":"#158a8a","fontSize":9.5,"font":"Noto Sans CJK KR"}},
   {"data":{"values":[{"h":1}]},"mark":{"type":"text","text":"단순 5","x":43,"y":7,"fill":"#cc22cc","fontSize":9.5,"font":"Noto Sans CJK KR"}},
   {"data":{"values":[{"h":1}]},"mark":{"type":"text","text":"20","x":74,"y":7,"fill":"#f0a500","fontSize":10}},
   {"data":{"values":[{"h":1}]},"mark":{"type":"text","text":"60","x":88,"y":7,"fill":"#2e9e3e","fontSize":10}},
   {"data":{"values":[{"h":1}]},"mark":{"type":"text","text":"120","x":104,"y":7,"fill":"#888","fontSize":10}},
   {"data":{"values":[{"h":1}]},"mark":{"type":"text","text":"32,272,708주(299.89%)","x":3,"y":18,"fill":"#333","fontSize":10}}
  ]
 }
]
}
